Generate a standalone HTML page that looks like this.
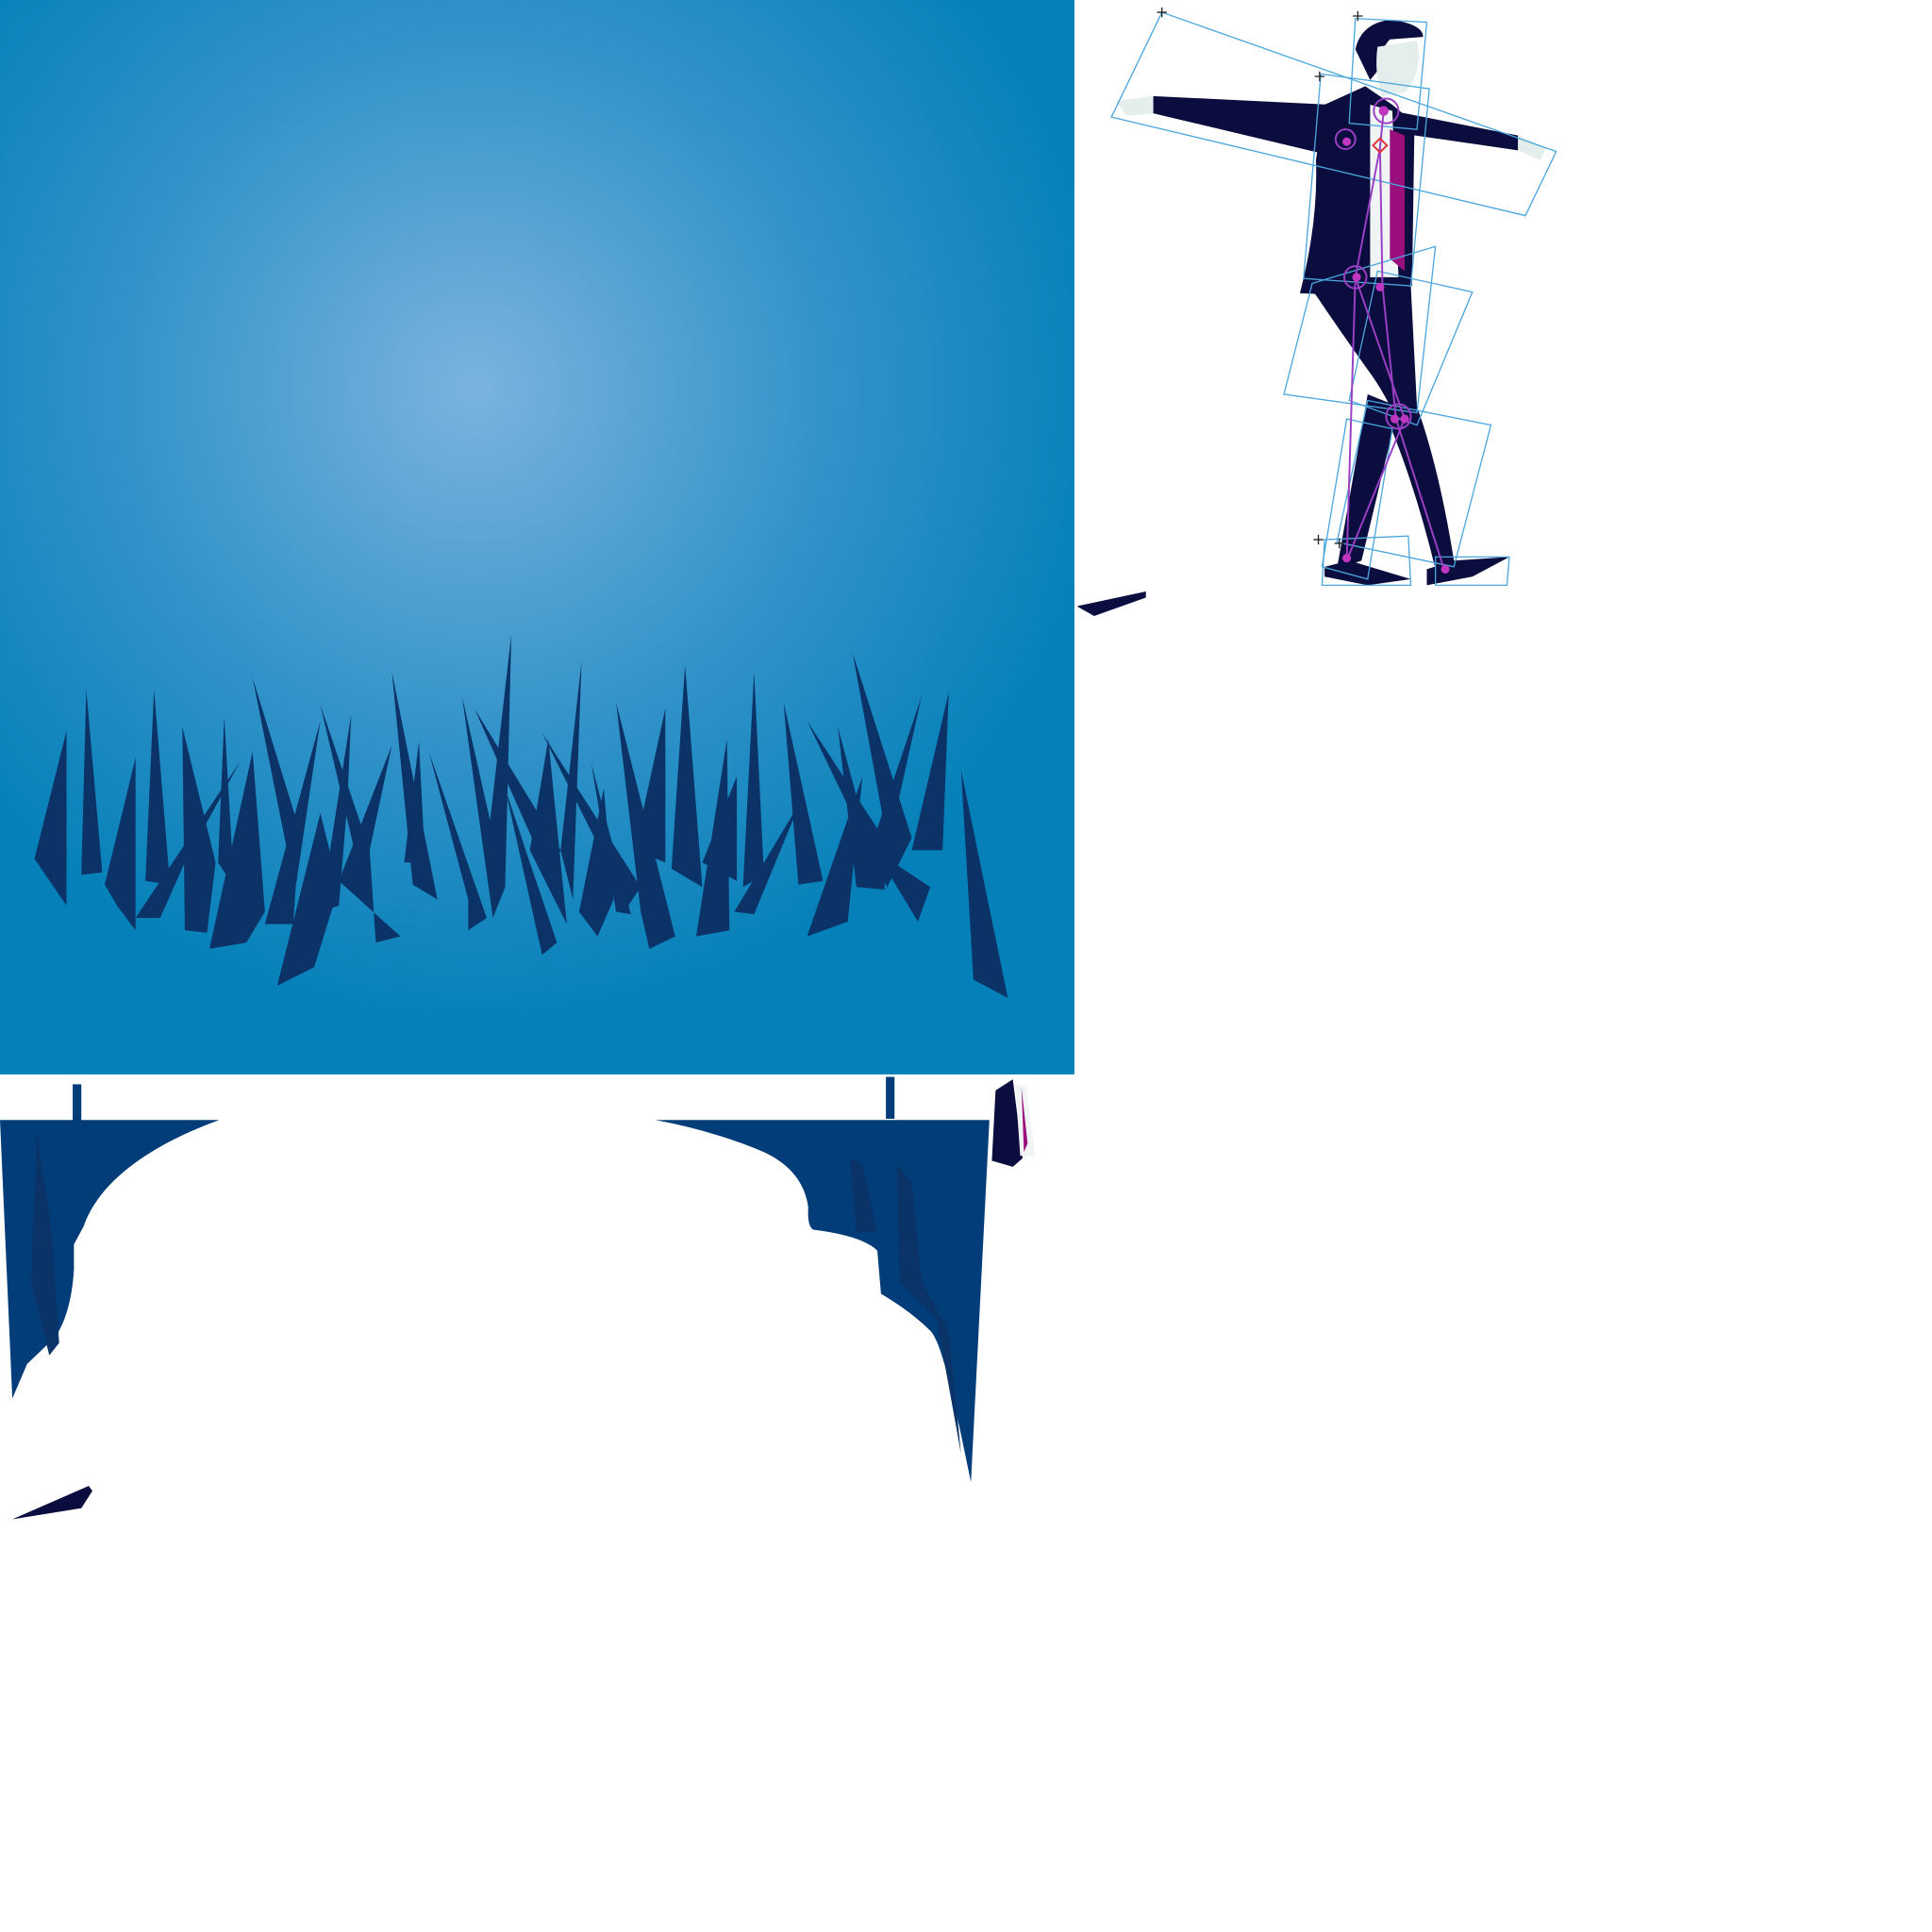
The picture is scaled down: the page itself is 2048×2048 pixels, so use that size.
<!DOCTYPE html>
<html><head><meta charset="utf-8"><style>
html,body{margin:0;padding:0;background:#fff;width:2048px;height:2048px;overflow:hidden}
svg{display:block}
</style></head><body>
<svg width="2048" height="2048" viewBox="0 0 1568 1568" xmlns="http://www.w3.org/2000/svg">
<defs>
<radialGradient id="sky" cx="385" cy="315" r="520" gradientUnits="userSpaceOnUse">
<stop offset="0" stop-color="#7bb3df"/><stop offset="0.55" stop-color="#3293c9"/><stop offset="1" stop-color="#0580b8"/>
</radialGradient>
</defs>
<g>
<rect x="0" y="0" width="872" height="872" fill="url(#sky)"/>
</g>
<g fill="#0b3368">
<polygon points="28,697 54,593 54,735"/>
<polygon points="66,710 70,560 83,708"/>
<polygon points="85,718 110,615 110,755 95,735"/>
<polygon points="118,715 125,560 138,718"/>
<polygon points="110,745 195,618 150,700 130,745"/>
<polygon points="148,590 175,700 168,757 150,755"/>
<polygon points="177,700 182,582 190,720"/>
<polygon points="170,770 205,610 215,740 200,765"/>
<polygon points="205,550 245,680 235,700"/>
<polygon points="215,750 260,585 240,720 238,750"/>
<polygon points="225,800 260,660 275,720 255,785"/>
<polygon points="260,572 300,690 290,700"/>
<polygon points="260,740 285,580 282,650 275,735"/>
<polygon points="275,715 318,605 300,690 305,765 325,760"/>
<polygon points="318,545 355,730 335,718"/>
<polygon points="328,700 340,602 345,700"/>
<polygon points="348,610 380,730 380,755 395,745"/>
<polygon points="375,565 410,720 400,745"/>
<polygon points="395,690 415,515 410,720"/>
<polygon points="385,575 455,690 445,710"/>
<polygon points="410,640 440,775 452,765 430,700"/>
<polygon points="430,690 445,600 460,750"/>
<polygon points="455,690 472,537 465,730"/>
<polygon points="440,595 520,720 510,735"/>
<polygon points="470,740 490,640 498,730 485,760"/>
<polygon points="480,620 500,740 512,742"/>
<polygon points="500,570 520,740 527,770 548,760"/>
<polygon points="515,690 540,575 540,700"/>
<polygon points="545,705 556,540 570,720"/>
<polygon points="565,760 590,600 592,755"/>
<polygon points="570,700 598,630 598,715"/>
<polygon points="603,720 612,545 620,710"/>
<polygon points="596,740 650,650 612,742"/>
<polygon points="636,570 668,715 648,718"/>
<polygon points="655,585 730,700 720,720"/>
<polygon points="655,760 700,630 688,748"/>
<polygon points="692,530 740,680 725,710"/>
<polygon points="696,720 748,565 718,700 718,722"/>
<polygon points="680,590 695,720 715,720"/>
<polygon points="710,690 755,720 745,748"/>
<polygon points="740,690 770,562 765,690"/>
<polygon points="780,625 818,810 790,795"/>
</g>
<g fill="#023d7a">
<rect x="59" y="880" width="7" height="30"/>
<path d="M0,909 L178,909 C120,930 80,960 68,995 L60,1010 L60,1030 Q58,1065 45,1085 L22,1107 L10,1135 Z"/>
<polygon points="30,920 42,1000 48,1090 40,1100 25,1040" fill="#0a3468"/>
</g>
<g fill="#023d7a">
<rect x="719" y="874" width="7" height="34"/>
<path d="M532,909 L803,909 L788,1203 C775,1140 765,1090 755,1080 Q740,1065 715,1050 L712,1015 Q700,1003 660,998 Q655,995 656,980 Q652,950 620,935 Q580,918 532,909 Z"/>
<polygon points="728,945 740,960 748,1040 770,1080 780,1180 760,1070 730,1040" fill="#0a3468"/>
<polygon points="690,940 700,945 712,1000 695,1000" fill="#0a3468"/>
</g>
<g><path d="M874,492 L930,480 L930,485 L888,500 Z" fill="#0b0d3f"/></g>
<g><path d="M10,1233 L72,1206 L75,1210 L66,1224 Z" fill="#0b0d3f"/></g>
<g>
<path d="M808,885 L822,876 L830,940 L822,947 L805,942 Z" fill="#0b0d3f"/>
<path d="M824,880 L833,882 L840,938 L828,938 Z" fill="#f0f4f4"/>
<path d="M829,882 L834,928 L831,935 Z" fill="#9b0f7c"/>
</g>
<g>
<path d="M1100,40 Q1105,18 1130,16 Q1155,20 1155,30 L1128,32 Q1120,40 1120,55 L1112,65 Z" fill="#0b0d3f"/>
<path d="M1118,38 L1150,33 Q1155,60 1140,75 L1122,78 Q1115,60 1118,38 Z" fill="#e4eeec"/>
<path d="M936,78 L1080,85 L1075,125 L936,92 Z" fill="#0b0d3f"/>
<path d="M905,82 L936,78 L936,92 L915,94 Z" fill="#e4eeec"/>
<path d="M1130,90 L1232,110 L1232,122 L1135,108 Z" fill="#0b0d3f"/>
<path d="M1232,110 L1255,120 L1250,130 L1232,122 Z" fill="#e4eeec"/>
<path d="M1075,85 L1108,70 L1130,85 L1148,100 L1146,232 L1105,240 L1055,238 Q1070,180 1068,130 Z" fill="#0b0d3f"/>
<path d="M1112,85 L1130,90 L1135,225 L1112,225 Z" fill="#f0f4f4"/>
<path d="M1128,105 L1140,110 L1140,220 L1128,210 Z" fill="#9b0f7c"/>
<path d="M1065,235 L1145,232 L1150,330 L1135,345 Q1125,320 1110,300 Q1085,265 1065,235 Z" fill="#0b0d3f"/>
<path d="M1110,320 L1135,330 L1105,455 L1085,462 Z" fill="#0b0d3f"/>
<path d="M1130,330 L1150,330 Q1168,380 1180,455 L1165,462 Q1150,400 1130,350 Z" fill="#0b0d3f"/>
<path d="M1075,460 L1095,455 L1145,470 L1110,475 L1075,468 Z" fill="#0b0d3f"/>
<path d="M1158,462 L1180,455 L1225,452 L1195,468 L1158,475 Z" fill="#0b0d3f"/>
</g>
<g fill="none" stroke="#4aa6dc" stroke-width="1">
<polygon points="943,10 1263,123 1238,175 902,95"/>
<polygon points="1100,15 1158,18 1150,105 1095,100"/>
<polygon points="1072,60 1160,72 1145,232 1058,226"/>
<polygon points="1065,230 1165,200 1150,335 1042,320"/>
<polygon points="1118,220 1195,237 1150,345 1095,325"/>
<polygon points="1110,325 1210,345 1180,460 1085,440"/>
<polygon points="1093,340 1130,348 1110,470 1073,460"/>
<polygon points="1075,438 1143,435 1145,475 1073,475"/>
<polygon points="1165,452 1225,452 1223,475 1165,475"/>
</g>
<g stroke="#9a3fc4" stroke-width="1.5" fill="none">
<polyline points="1123,90 1120,120 1100,225 1093,455"/>
<polyline points="1120,120 1122,232 1133,340 1172,462"/>
<polyline points="1100,225 1140,340 1093,455"/>
<circle cx="1125" cy="90" r="10"/><circle cx="1092" cy="113" r="8"/><circle cx="1100" cy="225" r="9"/><circle cx="1135" cy="338" r="10"/>
<g fill="#c036c0" stroke="none">
<circle cx="1123" cy="90" r="4"/><circle cx="1093" cy="115" r="3.5"/><circle cx="1101" cy="225" r="3.5"/><circle cx="1120" cy="233" r="3.5"/><circle cx="1132" cy="340" r="3.5"/><circle cx="1140" cy="340" r="3.5"/><circle cx="1093" cy="453" r="3.5"/><circle cx="1173" cy="462" r="3.5"/>
</g>
<rect x="1116" y="114" width="8" height="8" stroke="#e0303a" transform="rotate(45 1120 118)"/>
</g>
<g stroke="#222" stroke-width="1">
<path d="M939,10h8M943,6v8M1098,13h8M1102,9v8M1067,62h8M1071,58v8M1066,438h8M1070,434v8M1083,441h8M1087,437v8"/>
</g>
</svg>
</body></html>
